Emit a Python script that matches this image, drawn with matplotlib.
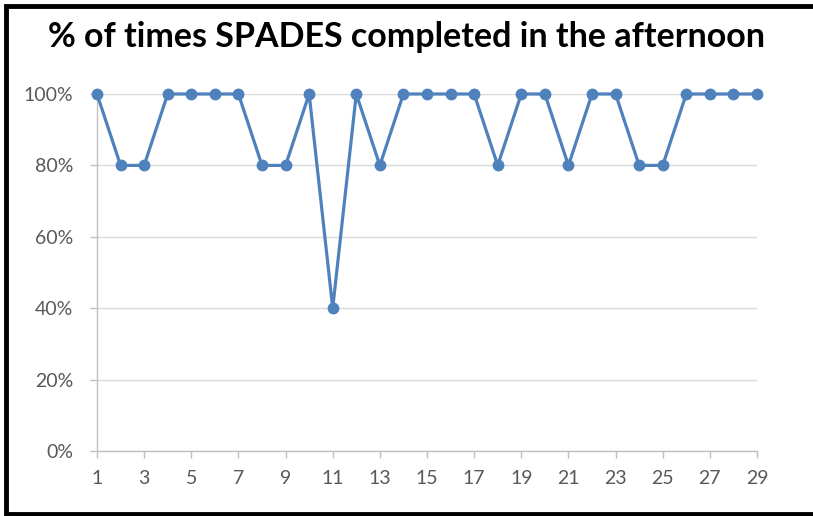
import numpy as np
import matplotlib.pyplot as plt
from matplotlib.lines import Line2D
from matplotlib.ticker import FuncFormatter, MultipleLocator

# veriler
days = list(range(1, 30))
pct_done = [100, 80, 80, 100, 100, 100, 100, 80, 80, 100,
            40, 100, 80, 100, 100, 100, 100, 80, 100, 100,
            80, 100, 100, 80, 80, 100, 100, 100, 100]
title = '% of times SPADES completed in the afternoon'

plt.rcParams['font.family'] = ['Lato', 'DejaVu Sans']

W, H = 813, 516
fig = plt.figure(figsize=(W / 100, H / 100), dpi=100)
ax = fig.add_axes([97 / W, (H - 451) / H, (757 - 97) / W, (451 - 94) / H])

ax.plot(days, np.array(pct_done) / 100, color='#4f81bd', lw=2.3,
        marker='o', ms=7.5, zorder=3, clip_on=False)

ax.set_xlim(1, 29)
ax.set_ylim(0, 1)
ax.set_xticks(days[::2])
ax.yaxis.set_major_locator(MultipleLocator(0.2))
ax.yaxis.set_major_formatter(FuncFormatter(lambda v, p: f'{v*100:.0f}%'))

ax.grid(axis='y', color='#d9d9d9', lw=1)
ax.set_axisbelow(True)
for s in ['top', 'right']:
    ax.spines[s].set_visible(False)
for s in ['left', 'bottom']:
    ax.spines[s].set_color('#bfbfbf')
    ax.spines[s].set_linewidth(1)

ax.tick_params(axis='x', length=5, width=1, color='#bfbfbf', pad=9,
               labelsize=14, labelcolor='#595959')
ax.tick_params(axis='y', length=5, width=1, color='#bfbfbf', pad=12,
               labelsize=14, labelcolor='#595959')

fig.text(0.5, 1 - 37 / H, title, ha='center', va='center',
         fontsize=24.5, fontweight='bold', color='black')

# çerçeve (sol, üst, alt) - sağ kenar yok
x0, y0, y1 = 6 / W, 2.5 / H, 1 - 5.5 / H
frame = Line2D([1.0, x0, x0, 1.0], [y1, y1, y0, y0], transform=fig.transFigure,
               color='black', lw=3.5, solid_joinstyle='miter')
fig.add_artist(frame)

fig.savefig('out.png', dpi=100)
